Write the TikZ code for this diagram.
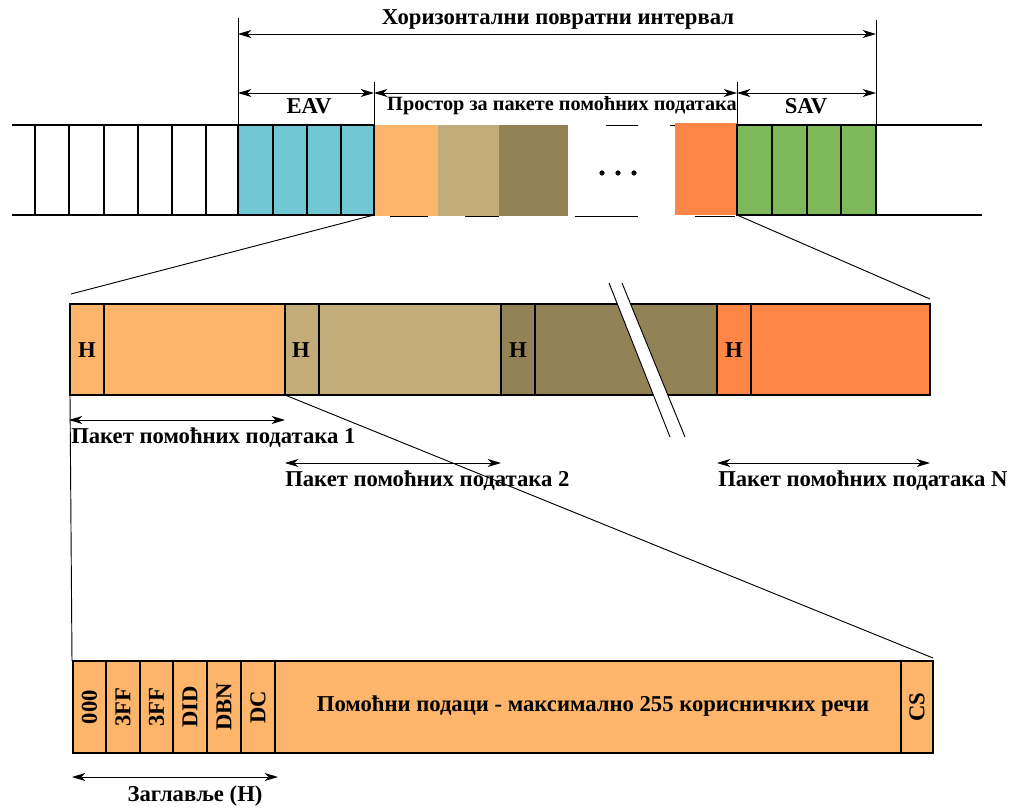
\documentclass[tikz,border=0pt]{standalone}
\usepackage{fontspec}
\setmainfont{Liberation Serif}
\usetikzlibrary{arrows.meta}
\definecolor{cyanc}{RGB}{112,198,211}
\definecolor{greenc}{RGB}{125,184,90}
\definecolor{orangec}{RGB}{253,180,107}
\definecolor{tanc}{RGB}{193,172,122}
\definecolor{olivec}{RGB}{148,130,87}
\definecolor{redc}{RGB}{253,134,70}
\tikzset{
  dimarrow/.style={{Stealth[length=10pt,width=6pt,inset=3pt]}-{Stealth[length=10pt,width=6pt,inset=3pt]}, line width=0.7pt},
  extline/.style={line width=0.7pt},
  thinline/.style={line width=0.7pt},
  cellline/.style={line width=1.4pt},
  lbl/.style={font=\bfseries\fontsize{17}{19}\selectfont, inner sep=0pt},
  smalllbl/.style={font=\bfseries\fontsize{15.2}{17}\selectfont, inner sep=0pt},
  rotlbl/.style={font=\bfseries\fontsize{17}{19}\selectfont, inner sep=0pt, rotate=90}
}
\begin{document}
\begin{tikzpicture}[x=0.75pt,y=-0.75pt]
\useasboundingbox (0,0) rectangle (1024,812);
% ---------- top row ----------
\fill[orangec] (374,125) rectangle (438,216);
\fill[tanc] (438,125) rectangle (499,216);
\fill[olivec] (499,125) rectangle (568,216);
\fill[redc] (675,123) rectangle (737,215);
\draw[cellline] (12,125) -- (238,125);
\draw[cellline] (12,215) -- (238,215);
\draw[cellline] (876,125) -- (982,125);
\draw[cellline] (876,215) -- (982,215);
\foreach \x in {35,69,104,138,172,206} \draw[cellline] (\x,125) -- (\x,215);
\foreach \a/\b in {238/273,273/307,307/341,341/374} \draw[cellline,fill=cyanc] (\a,125) rectangle (\b,215);
\foreach \a/\b in {737/772,772/807,807/841,841/876} \draw[cellline,fill=greenc] (\a,125) rectangle (\b,215);
\draw[thinline] (606,125) -- (638,125);
\draw[thinline] (670,125) -- (675,125);
\foreach \a/\b in {390/428,465/499,575/638,695/735} \draw[thinline] (\a,216) -- (\b,216);
\foreach \x in {602,618,634} \fill (\x,173) circle (2.6);
\coordinate (eavL) at (238,125);
\coordinate (spL) at (374,125);
\coordinate (savL) at (737,125);
\coordinate (savR) at (876,125);
\coordinate (eavLtop) at (238,18);
\coordinate (savRtop) at (876,20);
\coordinate (spLtop) at (374,82);
\coordinate (savLtop) at (737,82);
\coordinate (hA) at (238,34);
\coordinate (hB) at (876,34);
\coordinate (d1) at (238,93);
\coordinate (d2) at (374,93);
\coordinate (d3) at (737,93);
\coordinate (d4) at (876,93);
\draw[extline] (eavLtop) -- (eavL);
\draw[extline] (savRtop) -- (savR);
\draw[extline] (spLtop) -- (spL);
\draw[extline] (savLtop) -- (savL);
\draw[dimarrow] (hA) -- (hB);
\draw[dimarrow] (d1) -- (d2);
\draw[dimarrow] (d2) -- (d3);
\draw[dimarrow] (d3) -- (d4);
\node[lbl] (title) at (558,19) {Хоризонтални повратни интервал};
\node[lbl] (eav) at (309,106) {EAV};
\node[smalllbl] (space) at (562,106) {Простор за пакете помоћних података};
\node[lbl] (sav) at (806,106) {SAV};
% ---------- middle row ----------
\foreach \a/\b/\c in {70/285/orangec,285/501/tanc,501/717/olivec,717/930/redc}
  \draw[cellline,fill=\c] (\a,304) rectangle (\b,395);
\foreach \x in {104,319,535,751} \draw[cellline] (\x,304) -- (\x,395);
\node[lbl] (h1) at (87,350) {H};
\node[lbl] (h2) at (301,350) {H};
\node[lbl] (h3) at (518,350) {H};
\node[lbl] (h4) at (734,350) {H};
\fill[white] (609,283) -- (622,283) -- (685,437) -- (670,437) -- cycle;
\draw[thinline] (609,283) -- (670,437);
\draw[thinline] (622,283) -- (685,437);
\coordinate (tbl) at (374,215);
\coordinate (tbr) at (737,215);
\coordinate (mtl) at (71,294);
\coordinate (mtr) at (930,299);
\draw[thinline] (tbl) -- (mtl);
\draw[thinline] (tbr) -- (mtr);
\coordinate (p1a) at (69,420); \coordinate (p1b) at (285,420);
\coordinate (p2a) at (285,463); \coordinate (p2b) at (501,463);
\coordinate (pNa) at (717,463); \coordinate (pNb) at (930,463);
\draw[dimarrow] (p1a) -- (p1b);
\draw[dimarrow] (p2a) -- (p2b);
\draw[dimarrow] (pNa) -- (pNb);
\node[lbl,anchor=west] (pk1) at (71,438) {Пакет помоћних података 1};
\node[lbl,anchor=west] (pk2) at (285,481) {Пакет помоћних података 2};
\node[lbl,anchor=west] (pkN) at (718,481) {Пакет помоћних података N};
\coordinate (mbl) at (70,395);
\coordinate (mbr) at (285,395);
\coordinate (btl) at (72,661);
\coordinate (btr) at (933,658);
\draw[thinline] (mbl) -- (btl);
\draw[thinline] (mbr) -- (btr);
% ---------- bottom row ----------
\draw[cellline,fill=orangec] (73,661) rectangle (933,753);
\foreach \x in {106,140,173,207,241,275,901} \draw[cellline] (\x,661) -- (\x,753);
\node[rotlbl] (f1) at (89.5,707) {000};
\node[rotlbl] (f2) at (123,707) {3FF};
\node[rotlbl] (f3) at (156.5,707) {3FF};
\node[rotlbl] (f4) at (190,707) {DID};
\node[rotlbl] (f5) at (224,707) {DBN};
\node[rotlbl] (f6) at (258,707) {DC};
\node[rotlbl] (f7) at (917,707) {CS};
\node[lbl] (data) at (593,706) {Помоћни подаци - максимално 255 корисничких речи};
\coordinate (ha) at (72,777); \coordinate (hb) at (278,777);
\draw[dimarrow] (ha) -- (hb);
\node[lbl] (hdr) at (195,796) {Заглавље (H)};
\end{tikzpicture}
\end{document}
